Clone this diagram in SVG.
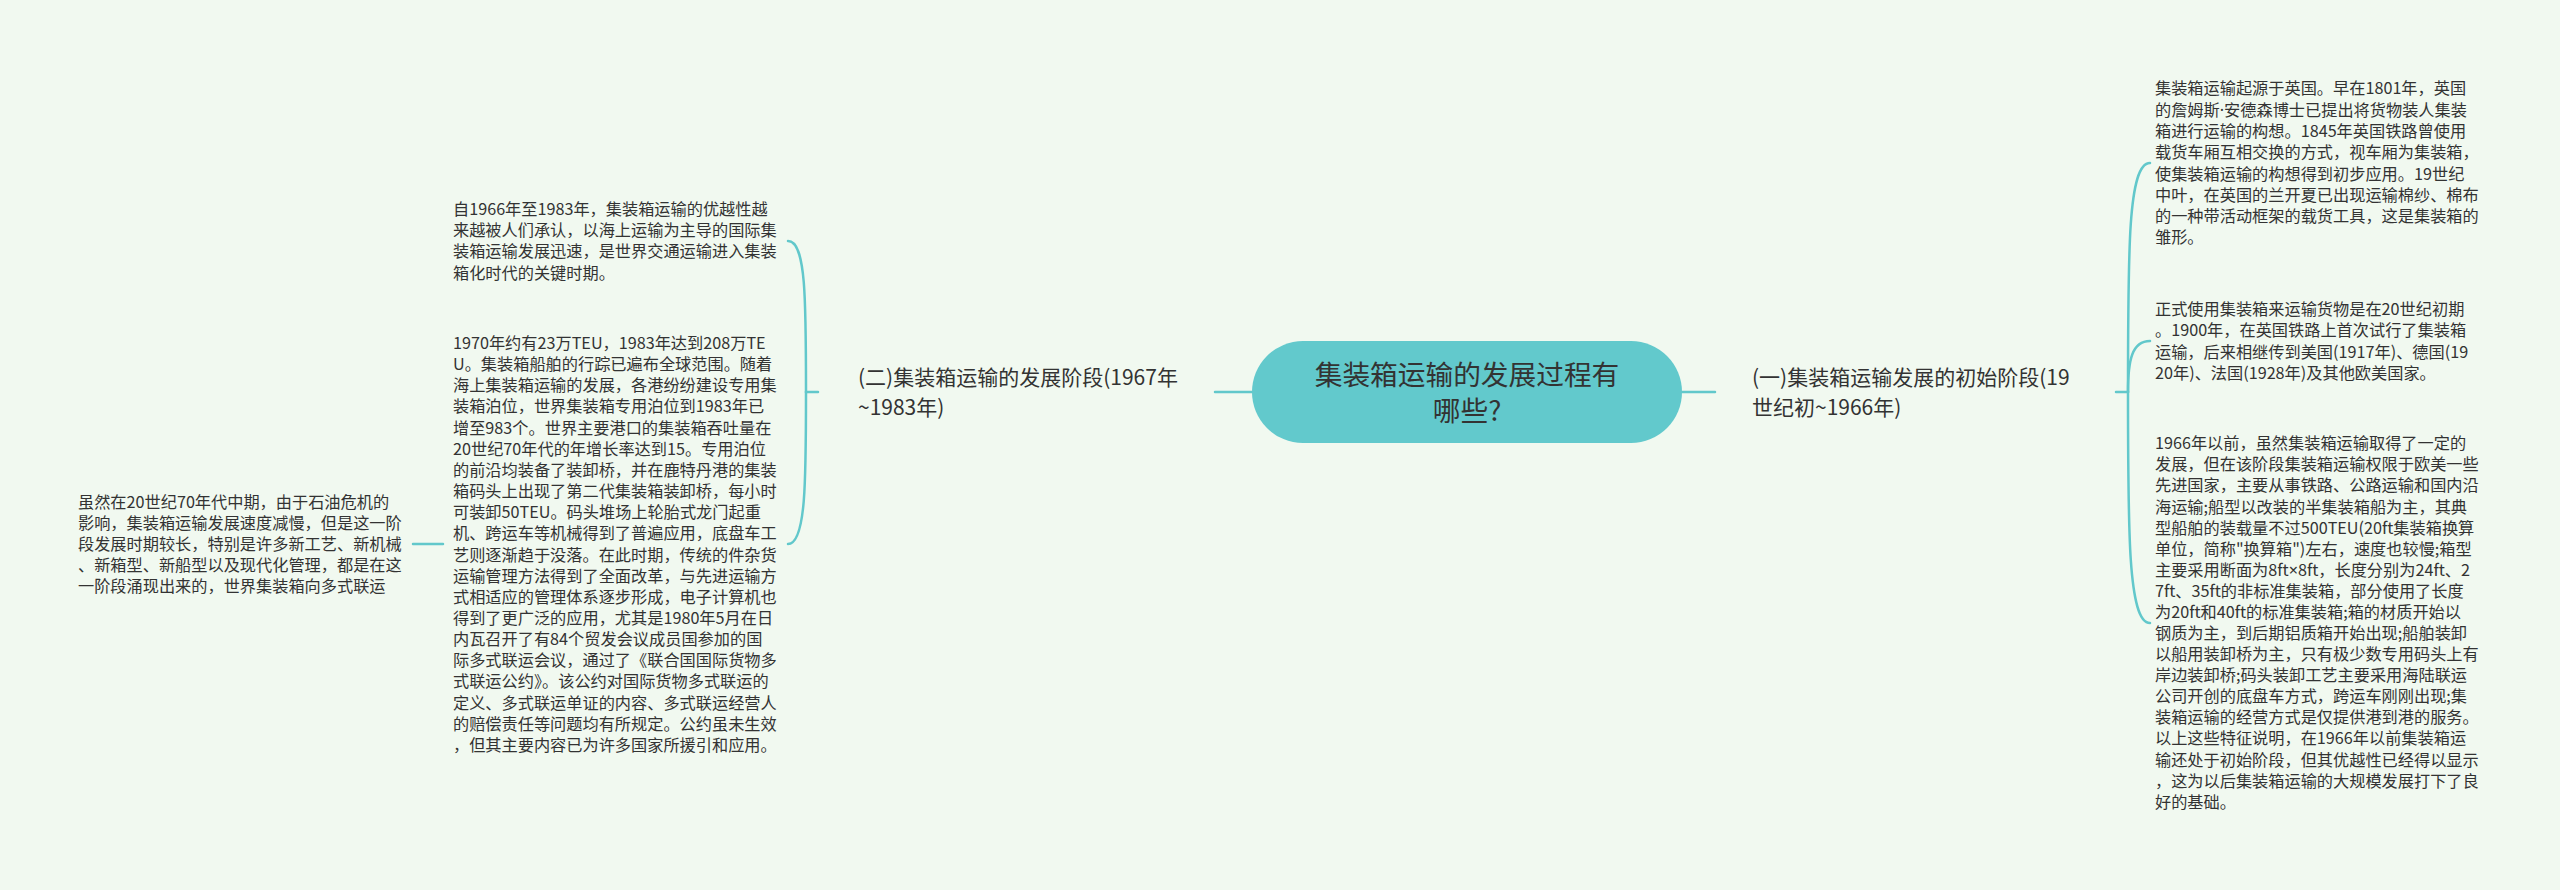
<svg xmlns="http://www.w3.org/2000/svg" width="2560" height="890" viewBox="0 0 2560 890">
<style>
text{font-family:"Noto Sans CJK SC","Noto Sans",sans-serif;fill:#333333;}
.t{font-size:16.2px;}
.lab{font-size:21px;}
.title{font-size:27.7px;}
.lat{font-family:"Noto Sans",sans-serif;}
.c{fill:none;stroke:#62c8cb;stroke-width:2.5;stroke-linecap:round;}
</style>
<rect width="2560" height="890" fill="#f1f9f0"/>
<g id="connectors">
<path class="c" d="M1215,392 L1252,392"/>
<path class="c" d="M1682,392 L1715,392"/>
<path class="c" d="M818,392 L806,392"/>
<path class="c" d="M806,392 C806,300 806,241 788,241"/>
<path class="c" d="M806,392 C806,480 806,544 788,544"/>
<path class="c" d="M443,544 L413,544"/>
<path class="c" d="M2116,392 L2128,392"/>
<path class="c" d="M2128,392 C2128,250 2128,163 2150,163"/>
<path class="c" d="M2128,392 C2128,360 2132,341 2150,341"/>
<path class="c" d="M2128,392 C2128,530 2128,623 2150,623"/>
</g>
<g id="root">
<rect x="1252" y="341" width="430" height="102" rx="51" fill="#62c9cc"/>
<text class="title" text-anchor="middle"><tspan x="1467" y="385">集装箱运输的发展过程有</tspan><tspan x="1467" y="421">哪些?</tspan></text>
</g>
<g id="branch2">
<text class="lab"><tspan x="858" y="385">(二)集装箱运输的发展阶段(1967年</tspan><tspan x="858" y="415">~1983年)</tspan></text>
</g>
<g id="branch1">
<text class="lab"><tspan x="1752" y="385">(一)集装箱运输发展的初始阶段(19</tspan><tspan x="1752" y="415">世纪初~1966年)</tspan></text>
</g>
<g id="leaf2a">
<text class="t"><tspan x="453" y="215">自1966年至1983年，集装箱运输的优越性越</tspan><tspan x="453" dy="21.2">来越被人们承认，以海上运输为主导的国际集</tspan><tspan x="453" dy="21.2">装箱运输发展迅速，是世界交通运输进入集装</tspan><tspan x="453" dy="21.2">箱化时代的关键时期。</tspan></text>
</g>
<g id="leaf2b">
<text class="t"><tspan x="453" y="349">1970年约有23万TEU，1983年达到208万TE</tspan><tspan x="453" dy="21.15">U。集装箱船舶的行踪已遍布全球范围。随着</tspan><tspan x="453" dy="21.15">海上集装箱运输的发展，各港纷纷建设专用集</tspan><tspan x="453" dy="21.15">装箱泊位，世界集装箱专用泊位到1983年已</tspan><tspan x="453" dy="21.15">增至983个。世界主要港口的集装箱吞吐量在</tspan><tspan x="453" dy="21.15">20世纪70年代的年增长率达到15。专用泊位</tspan><tspan x="453" dy="21.15">的前沿均装备了装卸桥，并在鹿特丹港的集装</tspan><tspan x="453" dy="21.15">箱码头上出现了第二代集装箱装卸桥，每小时</tspan><tspan x="453" dy="21.15">可装卸50TEU。码头堆场上轮胎式龙门起重</tspan><tspan x="453" dy="21.15">机、跨运车等机械得到了普遍应用，底盘车工</tspan><tspan x="453" dy="21.15">艺则逐渐趋于没落。在此时期，传统的件杂货</tspan><tspan x="453" dy="21.15">运输管理方法得到了全面改革，与先进运输方</tspan><tspan x="453" dy="21.15">式相适应的管理体系逐步形成，电子计算机也</tspan><tspan x="453" dy="21.15">得到了更广泛的应用，尤其是1980年5月在日</tspan><tspan x="453" dy="21.15">内瓦召开了有84个贸发会议成员国参加的国</tspan><tspan x="453" dy="21.15">际多式联运会议，通过了《联合国国际货物多</tspan><tspan x="453" dy="21.15">式联运公约》。该公约对国际货物多式联运的</tspan><tspan x="453" dy="21.15">定义、多式联运单证的内容、多式联运经营人</tspan><tspan x="453" dy="21.15">的赔偿责任等问题均有所规定。公约虽未生效</tspan><tspan x="453" dy="21.15">，但其主要内容已为许多国家所援引和应用。</tspan></text>
</g>
<g id="leaf2b1">
<text class="t"><tspan x="78" y="507.6">虽然在20世纪70年代中期，由于石油危机的</tspan><tspan x="78" dy="21.2">影响，集装箱运输发展速度减慢，但是这一阶</tspan><tspan x="78" dy="21.2">段发展时期较长，特别是许多新工艺、新机械</tspan><tspan x="78" dy="21.2">、新箱型、新船型以及现代化管理，都是在这</tspan><tspan x="78" dy="21.2">一阶段涌现出来的，世界集装箱向多式联运</tspan></text>
</g>
<g id="leaf1a">
<text class="t"><tspan x="2155" y="94.3">集装箱运输起源于英国。早在1801年，英国</tspan><tspan x="2155" dy="21.3">的詹姆斯<tspan class="lat">·</tspan>安德森博士已提出将货物装人集装</tspan><tspan x="2155" dy="21.3">箱进行运输的构想。1845年英国铁路曾使用</tspan><tspan x="2155" dy="21.3">载货车厢互相交换的方式，视车厢为集装箱，</tspan><tspan x="2155" dy="21.3">使集装箱运输的构想得到初步应用。19世纪</tspan><tspan x="2155" dy="21.3">中叶，在英国的兰开夏已出现运输棉纱、棉布</tspan><tspan x="2155" dy="21.3">的一种带活动框架的载货工具，这是集装箱的</tspan><tspan x="2155" dy="21.3">雏形。</tspan></text>
</g>
<g id="leaf1b">
<text class="t"><tspan x="2155" y="315">正式使用集装箱来运输货物是在20世纪初期</tspan><tspan x="2155" dy="21.3">。1900年，在英国铁路上首次试行了集装箱</tspan><tspan x="2155" dy="21.3">运输，后来相继传到美国(1917年)、德国(19</tspan><tspan x="2155" dy="21.3">20年)、法国(1928年)及其他欧美国家。</tspan></text>
</g>
<g id="leaf1c">
<text class="t"><tspan x="2155" y="449.3">1966年以前，虽然集装箱运输取得了一定的</tspan><tspan x="2155" dy="21.08">发展，但在该阶段集装箱运输权限于欧美一些</tspan><tspan x="2155" dy="21.08">先进国家，主要从事铁路、公路运输和国内沿</tspan><tspan x="2155" dy="21.08">海运输;船型以改装的半集装箱船为主，其典</tspan><tspan x="2155" dy="21.08">型船舶的装载量不过500TEU(20ft集装箱换算</tspan><tspan x="2155" dy="21.08">单位，简称"换算箱")左右，速度也较慢;箱型</tspan><tspan x="2155" dy="21.08">主要采用断面为8ft<tspan class="lat">×</tspan>8ft，长度分别为24ft、2</tspan><tspan x="2155" dy="21.08">7ft、35ft的非标准集装箱，部分使用了长度</tspan><tspan x="2155" dy="21.08">为20ft和40ft的标准集装箱;箱的材质开始以</tspan><tspan x="2155" dy="21.08">钢质为主，到后期铝质箱开始出现;船舶装卸</tspan><tspan x="2155" dy="21.08">以船用装卸桥为主，只有极少数专用码头上有</tspan><tspan x="2155" dy="21.08">岸边装卸桥;码头装卸工艺主要采用海陆联运</tspan><tspan x="2155" dy="21.08">公司开创的底盘车方式，跨运车刚刚出现;集</tspan><tspan x="2155" dy="21.08">装箱运输的经营方式是仅提供港到港的服务。</tspan><tspan x="2155" dy="21.08">以上这些特征说明，在1966年以前集装箱运</tspan><tspan x="2155" dy="21.08">输还处于初始阶段，但其优越性已经得以显示</tspan><tspan x="2155" dy="21.08">，这为以后集装箱运输的大规模发展打下了良</tspan><tspan x="2155" dy="21.08">好的基础。</tspan></text>
</g>
</svg>
